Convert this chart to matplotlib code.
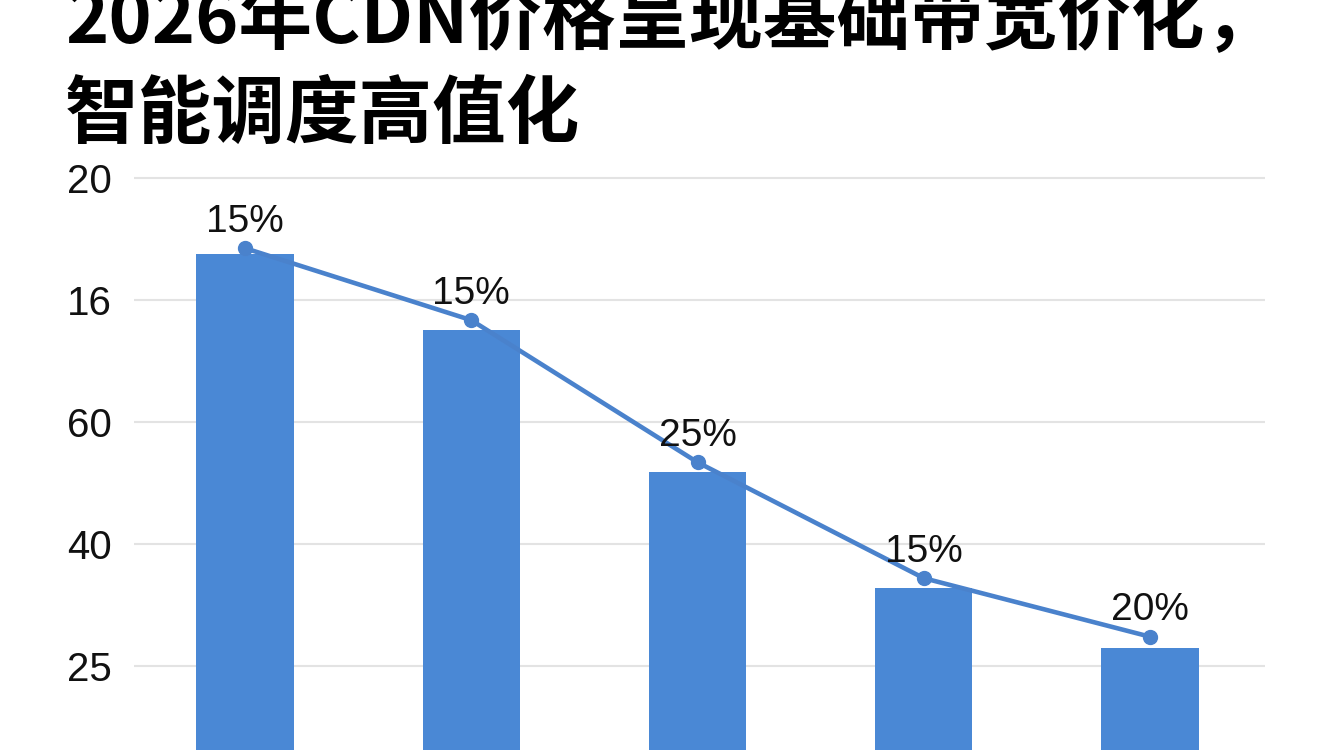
import matplotlib
matplotlib.use("Agg")
import matplotlib.pyplot as plt

plt.rcParams['font.family'] = ['Liberation Sans', 'Noto Sans CJK SC', 'DejaVu Sans']

# data (hidden linear scale, gridlines every 20)
categories = [0, 1, 2, 3, 4]
bar_values = [87.5, 75.1, 51.8, 32.8, 23.0]
line_values = [88.5, 76.7, 53.4, 34.4, 24.8]
pct_labels = ['15%', '15%', '25%', '15%', '20%']
ytick_pos = [20, 40, 60, 80, 100]
ytick_labels = ['25', '40', '60', '16', '20']

title_1 = '2026年CDN价格呈现基础带宽价化，'
title_2 = '智能调度高值化'

bar_color = '#4a88d5'
line_color = '#4a82cc'

fig = plt.figure(figsize=(13.44, 7.5), dpi=100)
fig.patch.set_facecolor('white')

# axes runs below the bottom edge of the figure, like the reference crop
ax = fig.add_axes([134 / 1344, -38 / 750, 1131 / 1344, 638 / 750])
ax.set_facecolor('none')

ax.bar(categories, bar_values, width=0.43, color=bar_color, zorder=2)
ax.plot(categories, line_values, color=line_color, lw=3.3, marker='o',
        markersize=10, zorder=3)

for x, y, lab in zip(categories, line_values, pct_labels):
    ax.annotate(lab, (x, y), xytext=(0, 12), textcoords='offset points',
                ha='center', va='baseline', fontsize=28, color='#111111')

ax.set_xlim(-0.4906, 4.508)
ax.set_ylim(0, 104.6)
ax.set_yticks(ytick_pos)
ax.set_yticklabels(ytick_labels)
ax.set_xticks([])
ax.tick_params(axis='y', length=0, pad=16, labelsize=29, labelcolor='#111111')
ax.grid(axis='y', color='#e3e3e3', lw=1.5, zorder=0)
ax.set_axisbelow(True)
for s in ax.spines.values():
    s.set_visible(False)

fig.text(65 / 1344, 1 - 43 / 750, title_1, fontsize=53, fontweight='black',
         family=['Noto Sans CJK SC', 'DejaVu Sans'], va='baseline', ha='left', color='black')
fig.text(65 / 1344, 1 - 137 / 750, title_2, fontsize=53, fontweight='black',
         family=['Noto Sans CJK SC', 'DejaVu Sans'], va='baseline', ha='left', color='black')

fig.savefig('out.png', dpi=100, facecolor='white')
